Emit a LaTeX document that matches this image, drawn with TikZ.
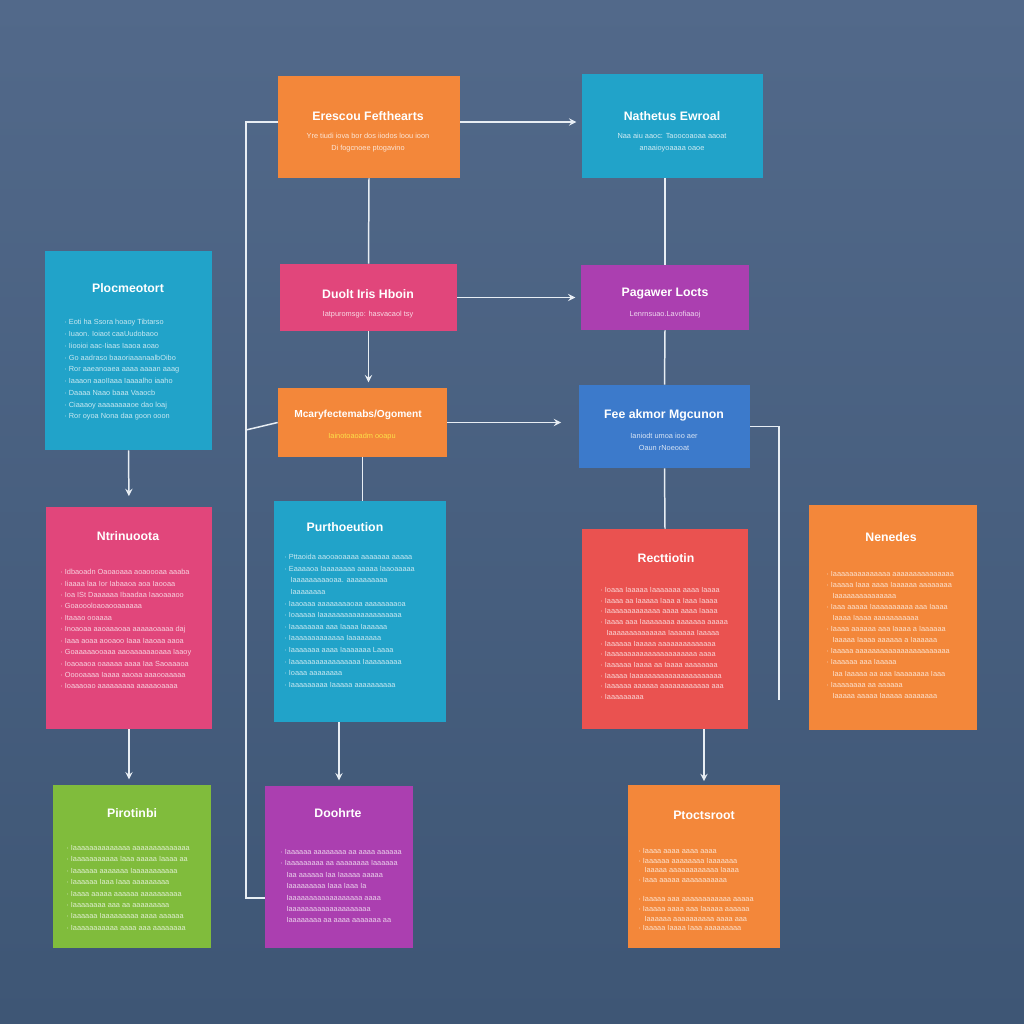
\documentclass[tikz,border=0pt]{standalone}
\usepackage{fontspec}
\setmainfont{Liberation Sans}
\usetikzlibrary{fit}

\definecolor{bgtop}{HTML}{52698A}
\definecolor{bgbot}{HTML}{3E5675}
\definecolor{cOrange}{HTML}{F3873A}
\definecolor{cCyan}{HTML}{21A3C9}
\definecolor{cPink}{HTML}{E1467B}
\definecolor{cPurple}{HTML}{AB3FB0}
\definecolor{cBlue}{HTML}{3C7ACB}
\definecolor{cRed}{HTML}{EA5250}
\definecolor{cGreen}{HTML}{80BC3C}
\definecolor{cLine}{HTML}{E8EEF4}

\begin{document}
\begin{tikzpicture}[x=0.02cm, y=-0.02cm, >=stealth,
  card/.style={inner sep=0pt, fill=#1},
  title/.style={text=white, font=\bfseries\fontsize{7}{9}\selectfont},
  sub/.style={text=white, opacity=0.8, align=center, anchor=north,
    font=\fontsize{4.2}{6.9}\selectfont},
  body/.style={text=white, opacity=0.75, align=left, anchor=north west, inner sep=0pt,
    font=\fontsize{4.2}{#1}\selectfont},
  body/.default={6.6},
  link/.style={cLine, line width=0.85pt}]

  % Background
  \shade[top color=bgtop, bottom color=bgbot] (0,0) rectangle (1024,1024);

  % Cards
  \node[card=cOrange, fit={(278,76) (460,178)}] (c1) {};
  \node[card=cCyan, fit={(582,74) (763,178)}] (c2) {};
  \node[card=cCyan, fit={(45,251) (212,450)}] (c3) {};
  \node[card=cPink, fit={(280,264) (457,331)}] (c4) {};
  \node[card=cPurple, fit={(581,265) (749,330)}] (c5) {};
  \node[card=cOrange, fit={(278,388) (447,457)}] (c6) {};
  \node[card=cBlue, fit={(579,385) (750,468)}] (c7) {};
  \node[card=cPink, fit={(46,507) (212,729)}] (c8) {};
  \node[card=cCyan, fit={(274,501) (446,722)}] (c9) {};
  \node[card=cRed, fit={(582,529) (748,729)}] (c10) {};
  \node[card=cOrange, fit={(809,505) (977,730)}] (c11) {};
  \node[card=cGreen, fit={(53,785) (211,948)}] (c12) {};
  \node[card=cPurple, fit={(265,786) (413,948)}] (c13) {};
  \node[card=cOrange, fit={(628,785) (780,948)}] (c14) {};

  % Titles
  \node[title] (t1) at (368,116) {Erescou Fefthearts};
  \node[title] (t2) at (672,116) {Nathetus Ewroal};
  \node[title] (t3) at (128,288) {Plocmeotort};
  \node[title] (t4) at (368,294) {Duolt Iris Hboin};
  \node[title] (t5) at (665,294) {Pagawer Locts};
  \node[title, font=\bfseries\fontsize{5.8}{7}\selectfont] (t6) at (358,415) {Mcaryfectemabs/Ogoment};
  \node[title] (t7) at (664,415) {Fee akmor Mgcunon};
  \node[title] (t8) at (128,536) {Ntrinuoota};
  \node[title] (t9) at (345,527) {Purthoeution};
  \node[title] (t10) at (666,558) {Recttiotin};
  \node[title] (t11) at (891,537) {Nenedes};
  \node[title] (t12) at (132,813) {Pirotinbi};
  \node[title] (t13) at (338,813) {Doohrte};
  \node[title] (t14) at (704,815) {Ptoctsroot};

  % Short texts
  \node[sub] (s1) at (368,127) {Yre tiudi iova bor dos iiodos loou ioon\\Di fogcnoee ptogavino};
  \node[sub] (s2) at (672,127) {Naa aiu aaoc: Taoocoaoaa aaoat\\anaaioyoaaaa oaoe};
  \node[sub] (s4) at (368,305) {Iatpuromsgo: hasvacaol tsy};
  \node[sub] (s5) at (665,305) {Lenrnsuao.Lavofiaaoj};
  \node[sub, text=yellow!70!white] (s6) at (362,427) {Iainotoaoadm ooapu};
  \node[sub] (s7) at (664,427) {Ianiodt umoa ioo aer\\Oaun rNoeooat};

  % Body texts
  \node[body=6.7] (b3) at (64,319) {· Eoti ha Ssora hoaoy Tibtarso\\· Iuaon. Ioiaot caaUudobaoo\\· Iiooioi aac-Iiaas Iaaoa aoao\\· Go aadraso baaoriaaanaalbOibo\\· Ror aaeanoaea aaaa aaaan aaag\\· Iaaaon aaoIIaaa Iaaaalho iaaho\\· Daaaa Naao baaa Vaaocb\\· Ciaaaoy aaaaaaaaoe dao loaj\\· Ror oyoa Nona daa goon ooon};
  \node[body=6.5] (b8) at (60,569) {· Idbaoadn Oaoaoaaa aoaoooaa aaaba\\· Iiaaaa laa Ior Iabaaoa aoa Iaooaa\\· Ioa ISt Daaaaaa Ibaadaa Iaaoaaaoo\\· Goaoooloaoaooaaaaaa\\· Itaaao ooaaaa\\· Inoaoaa aaoaaaoaa aaaaaoaaaa daj\\· Iaaa aoaa aooaoo Iaaa Iaaoaa aaoa\\· Goaaaaaooaaa aaoaaaaaaoaaa Iaaoy\\· Ioaoaaoa oaaaaa aaaa Iaa Saoaaaoa\\· Ooooaaaa Iaaaa aaoaa aaaooaaaaa\\· Ioaaaoao aaaaaaaaa aaaaaoaaaa};
  \node[body=6.6] (b9) at (284,554) {· Pttaoida aaooaoaaaa aaaaaaa aaaaa\\· Eaaaaoa Iaaaaaaaa aaaaa Iaaoaaaaa\\\ \ \ Iaaaaaaaaaoaa. aaaaaaaaaa\\\ \ \ Iaaaaaaaa\\· Iaaoaaa aaaaaaaaoaa aaaaaaaaoa\\· Ioaaaaa Iaaaaaaaaaaaaaaaaaaaa\\· Iaaaaaaaa aaa Iaaaa Iaaaaaa\\· Iaaaaaaaaaaaaa Iaaaaaaaa\\· Iaaaaaaa aaaa Iaaaaaaa Laaaa\\· Iaaaaaaaaaaaaaaaaa Iaaaaaaaaa\\· Ioaaa aaaaaaaa\\· Iaaaaaaaaa Iaaaaa aaaaaaaaaa};
  \node[body=6.1] (b10) at (600,587) {· Ioaaa Iaaaaa Iaaaaaaa aaaa Iaaaa\\· Iaaaa aa Iaaaaa Iaaa a Iaaa Iaaaa\\· Iaaaaaaaaaaaaa aaaa aaaa Iaaaa\\· Iaaaa aaa Iaaaaaaaa aaaaaaa aaaaa\\\ \ \ Iaaaaaaaaaaaaaa Iaaaaaa Iaaaaa\\· Iaaaaaa Iaaaaa aaaaaaaaaaaaaa\\· Iaaaaaaaaaaaaaaaaaaaaaa aaaa\\· Iaaaaaa Iaaaa aa Iaaaa aaaaaaaa\\· Iaaaaa Iaaaaaaaaaaaaaaaaaaaaaa\\· Iaaaaaa aaaaaa aaaaaaaaaaaa aaa\\· Iaaaaaaaaa};
  \node[body=6.3] (b11) at (826,571) {· Iaaaaaaaaaaaaaa aaaaaaaaaaaaaaa\\· Iaaaaa Iaaa aaaa Iaaaaaa aaaaaaaa\\\ \ \ Iaaaaaaaaaaaaaaa\\· Iaaa aaaaa Iaaaaaaaaaa aaa Iaaaa\\\ \ \ Iaaaa Iaaaa aaaaaaaaaaa\\· Iaaaa aaaaaa aaa Iaaaa a Iaaaaaa\\\ \ \ Iaaaaa Iaaaa aaaaaa a Iaaaaaa\\· Iaaaaa aaaaaaaaaaaaaaaaaaaaaaa\\· Iaaaaaa aaa Iaaaaa\\\ \ \ Iaa Iaaaaa aa aaa Iaaaaaaaa Iaaa\\· Iaaaaaaaa aa aaaaaa\\\ \ \ Iaaaaa aaaaa Iaaaaa aaaaaaaa};
  \node[body=6.5] (b12) at (66,845) {· Iaaaaaaaaaaaaaa aaaaaaaaaaaaaa\\· Iaaaaaaaaaaa Iaaa aaaaa Iaaaa aa\\· Iaaaaaa aaaaaaa Iaaaaaaaaaaa\\· Iaaaaaa Iaaa Iaaa aaaaaaaaa\\· Iaaaa aaaaa aaaaaa aaaaaaaaaa\\· Iaaaaaaaa aaa aa aaaaaaaaa\\· Iaaaaaa Iaaaaaaaaa aaaa aaaaaa\\· Iaaaaaaaaaaa aaaa aaa aaaaaaaa};
  \node[body=6.5] (b13) at (280,849) {· Iaaaaaa aaaaaaaa aa aaaa aaaaaa\\· Iaaaaaaaaa aa aaaaaaaa Iaaaaaa\\\ \ \ Iaa aaaaaa Iaa Iaaaaa aaaaa\\\ \ \ Iaaaaaaaaa Iaaa Iaaa Ia\\\ \ \ Iaaaaaaaaaaaaaaaaaa aaaa\\\ \ \ Iaaaaaaaaaaaaaaaaaaaa\\\ \ \ Iaaaaaaaa aa aaaa aaaaaaa aa};
  \node[body=5.5] (b14) at (638,848) {· Iaaaa aaaa aaaa aaaa\\· Iaaaaaa aaaaaaaa Iaaaaaaa\\\ \ \ Iaaaaa aaaaaaaaaaaa Iaaaa\\· Iaaa aaaaa aaaaaaaaaaa\\\ \\· Iaaaaa aaa aaaaaaaaaaaa aaaaa\\· Iaaaaa aaaa aaa Iaaaaa aaaaaa\\\ \ \ Iaaaaaa aaaaaaaaaa aaaa aaa\\· Iaaaaa Iaaaa Iaaa aaaaaaaaa};

  % Long line on the left
  \coordinate (tTop) at (246,122);
  \coordinate (tMid) at (246,430);
  \coordinate (tBot) at (246,898);
  \draw[link] (tTop -| c1.west) -- (tTop) -- (tBot) -- (tBot -| c13.west);
  \draw[link] (tMid) -- (c6.west);

  % Links between cards
  \draw[link, ->, shorten >=3pt] (tTop -| c1.east) -- (tTop -| c2.west);
  \draw[link] (c1.south) -- (c4.north);
  \draw[link] (c5.north |- c2.south) -- (c5.north);
  \draw[link, ->, shorten >=3pt] (c4.east) -- (c4.east -| c5.west);
  \draw[link, ->, shorten >=3pt] (c4.south) -- (c4.south |- c6.north);
  \draw[link, ->, shorten >=10pt] (c6.east) -- (c6.east -| c7.west);
  \draw[link] (c5.south) -- (c7.north);
  \draw[link] (c7.south) -- (c10.north);
  \draw[link] (c6.south) -- (c6.south |- c9.north);

  % Line on the right
  \coordinate (rEnd) at (779,700);
  \draw[link] (c7.east) -| (rEnd);

  % Downward arrows
  \draw[link, ->, shorten >=6pt] (c3.south) -- (c8.north);
  \draw[link, ->, shorten >=3pt] (c8.south) -- (c8.south |- c12.north);
  \draw[link, ->, shorten >=3pt] (c13.north |- c9.south) -- (c13.north);
  \draw[link, ->, shorten >=2pt] (c14.north |- c10.south) -- (c14.north);
\end{tikzpicture}
\end{document}
